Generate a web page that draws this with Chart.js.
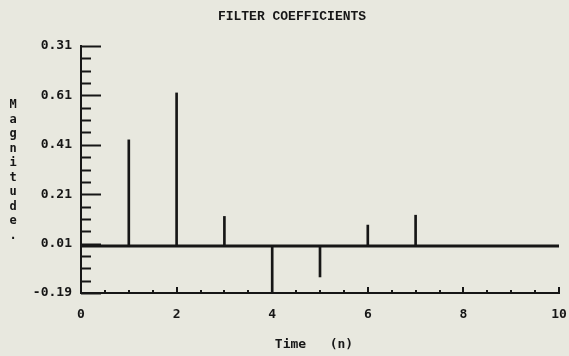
<!DOCTYPE html>
<html>
<head>
<meta charset="UTF-8">
<title>Filter Coefficients</title>
<script src="https://cdn.jsdelivr.net/npm/chart.js"></script>
<style>
  html, body { margin: 0; padding: 0; background: #e8e8df; }
  #wrap { width: 569px; height: 356px; }
</style>
</head>
<body>
<div id="wrap"><canvas id="coef"></canvas></div>
<script>
// impulse response h(n)
const samples = [1, 2, 3, 4, 5, 6, 7];
const coefficients = [0.43, 0.62, 0.12, -0.19, -0.125, 0.085, 0.125];

// axis ticks (labels as printed on the plot)
const yTickValues = [-0.19, 0.01, 0.21, 0.41, 0.61, 0.81];
const yTickLabels = ['-0.19', '0.01', '0.21', '0.41', '0.61', '0.31'];
const xTickValues = [0, 2, 4, 6, 8, 10];

const ink = '#161616';
const labelFont = { family: '"DejaVu Sans Mono", monospace', size: 13, weight: 'bold' };

// inward tick marks plus the hand-set titles
const decorations = {
  id: 'decorations',
  afterDraw(chart) {
    const { ctx, chartArea: a, scales: { x, y } } = chart;
    ctx.save();
    ctx.strokeStyle = ink;
    ctx.lineWidth = 2;
    ctx.beginPath();
    for (let k = 0; k <= 20; k++) {
      const py = Math.round(y.getPixelForValue(yTickValues[0] + k * 0.05)) + 0.5;
      ctx.moveTo(a.left, py);
      ctx.lineTo(a.left + (k % 4 === 0 ? 20 : 10), py);
    }
    for (let k = 0; k <= 20; k++) {
      const px = Math.round(x.getPixelForValue(k * 0.5));
      ctx.moveTo(px, a.bottom);
      ctx.lineTo(px, a.bottom - (k % 4 === 0 ? 6 : 3));
    }
    ctx.stroke();

    ctx.fillStyle = ink;
    ctx.textAlign = 'center';
    ctx.textBaseline = 'middle';
    ctx.font = 'bold 13px "Liberation Mono", monospace';
    ctx.fillText('FILTER COEFFICIENTS', 292, 17);

    ctx.font = 'bold 13px "DejaVu Sans Mono", monospace';
    ctx.fillText('Time   (n)', 314, 345);

    ctx.font = 'bold 12px "DejaVu Sans Mono", monospace';
    const yTitle = 'Magnitude.';
    for (let i = 0; i < yTitle.length; i++) {
      ctx.fillText(yTitle[i], 13, 105 + i * 14.5);
    }
    ctx.restore();
  }
};

new Chart(document.getElementById('coef'), {
  type: 'bar',
  data: {
    datasets: [
      {
        type: 'line',
        data: [{ x: 0, y: 0 }, { x: 10, y: 0 }],
        borderColor: ink,
        borderWidth: 3,
        pointRadius: 0,
        order: 2
      },
      {
        data: samples.map((n, i) => ({ x: n, y: coefficients[i] })),
        backgroundColor: ink,
        barThickness: 2,
        order: 1
      }
    ]
  },
  options: {
    responsive: true,
    maintainAspectRatio: false,
    animation: false,
    layout: { padding: { left: 0, right: 10, top: 46, bottom: 0 } },
    plugins: { legend: { display: false }, tooltip: { enabled: false } },
    scales: {
      x: {
        type: 'linear',
        offset: false,
        min: 0,
        max: 10,
        grid: { display: false, drawTicks: false },
        border: { display: true, color: ink, width: 2 },
        afterBuildTicks: s => { s.ticks = xTickValues.map(v => ({ value: v })); },
        afterFit: s => { s.height = 63; s.paddingLeft = 0; s.paddingRight = 0; },
        ticks: { color: ink, font: labelFont, padding: 14, maxRotation: 0, autoSkip: false }
      },
      y: {
        min: -0.19,
        max: 0.81,
        grid: { display: false, drawTicks: false },
        border: { display: true, color: ink, width: 2 },
        afterBuildTicks: s => { s.ticks = yTickValues.map(v => ({ value: v })); },
        afterFit: s => { s.width = 81; s.paddingTop = 0; s.paddingBottom = 0; },
        ticks: {
          color: ink,
          font: labelFont,
          padding: 9,
          autoSkip: false,
          callback: (v, i) => yTickLabels[i]
        }
      }
    }
  },
  plugins: [decorations]
});
</script>
</body>
</html>
